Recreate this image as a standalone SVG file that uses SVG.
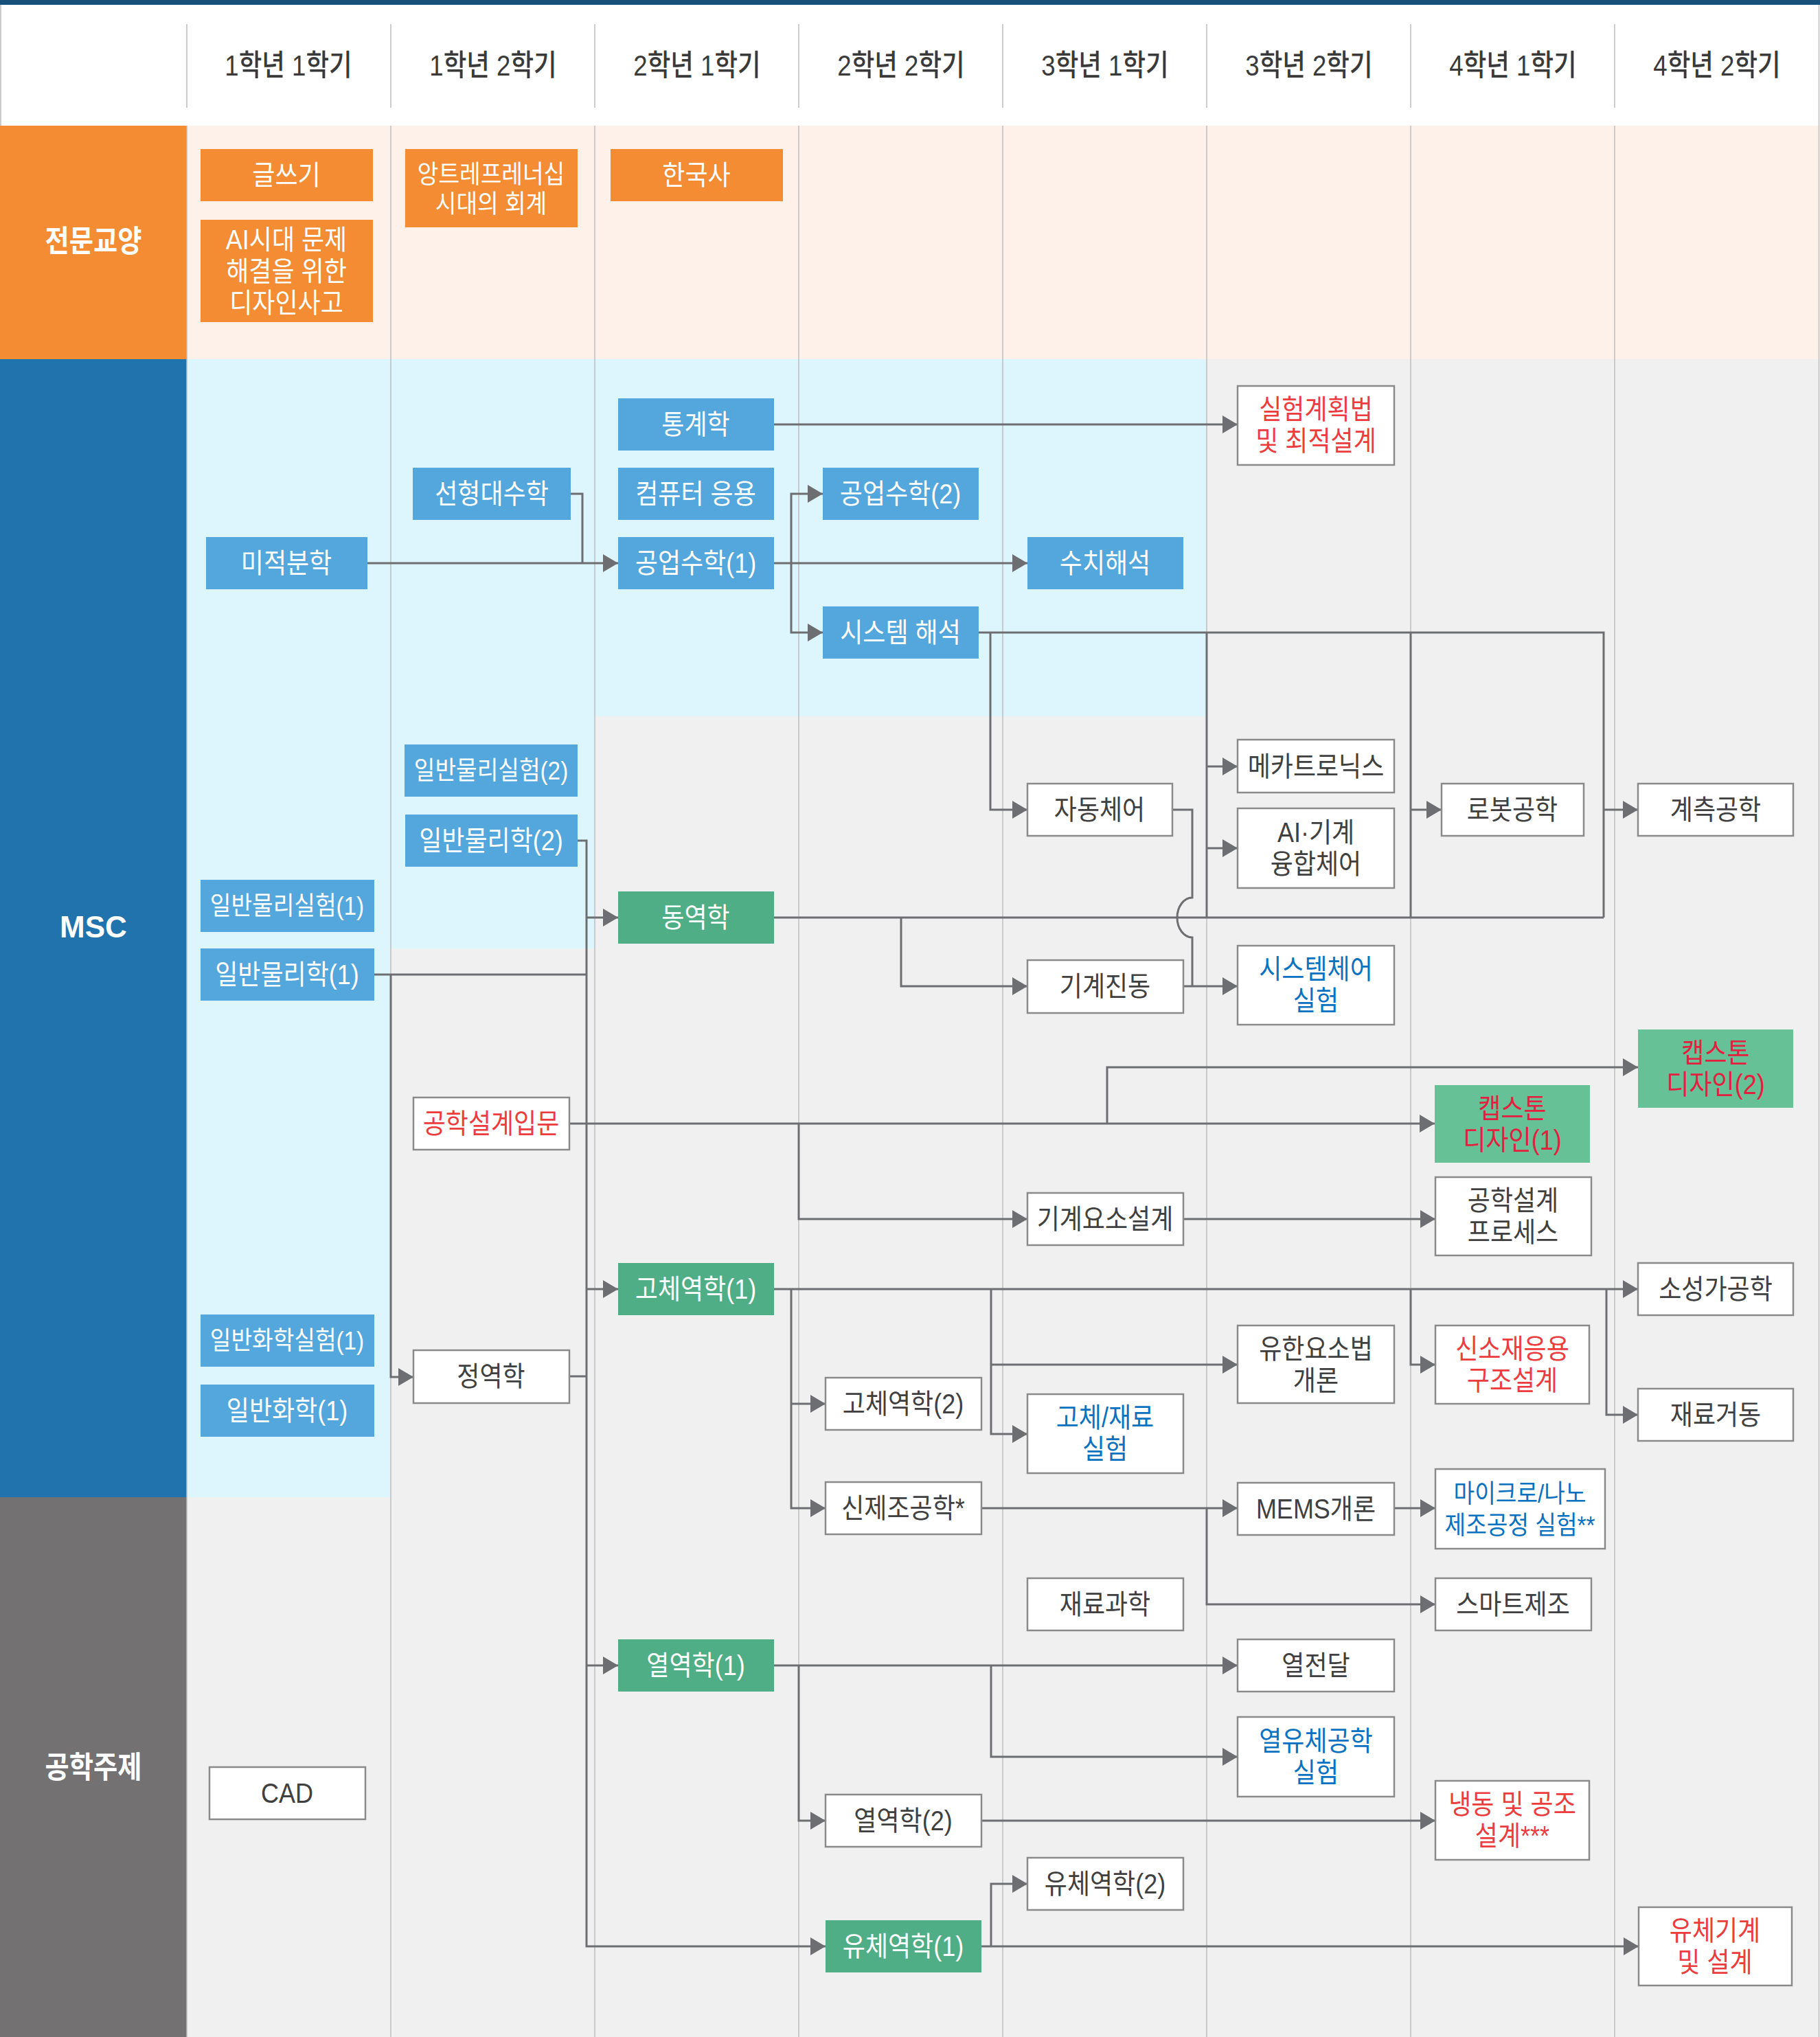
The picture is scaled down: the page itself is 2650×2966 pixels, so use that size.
<svg xmlns="http://www.w3.org/2000/svg" width="2650" height="2966" viewBox="0 0 2650 2966">
<defs>
<style>
text{font-family:"Liberation Sans","Noto Sans CJK KR",sans-serif;text-anchor:middle;dominant-baseline:central;transform-box:fill-box;transform-origin:center;transform:scaleX(0.9)}
.hdr{font-size:43px;font-weight:500;fill:#3a3a3a;transform:scaleX(0.85)}
.lab{font-size:44px;font-weight:700;fill:#ffffff;transform:scaleX(0.87)}
.lab.m{transform:none}
.n text{font-size:40px}
.n text.s{font-size:37px}
.col{stroke:#bdbdbd;stroke-width:1.5}
.or rect{fill:#f38c32}.or text{fill:#ffffff}
.bl rect{fill:#53a7dc}.bl text{fill:#ffffff}
.gr rect{fill:#50ae87}.gr text{fill:#ffffff}
.cg rect{fill:#66c196}.cg text{fill:#e3203f}
.wh rect{fill:#ffffff;stroke:#8a8a8a;stroke-width:2.5}.wh text{fill:#404040}
.wh text.r{fill:#ec3c3e}.wh text.b{fill:#0b72c2}
.wire path{fill:none;stroke:#6d6e71;stroke-width:3}
.wire path.a{marker-end:url(#ah)}
</style>
<marker id="ah" viewBox="0 0 22 26" refX="22" refY="13" markerWidth="22" markerHeight="26" markerUnits="userSpaceOnUse" orient="auto"><path d="M0,0 L22,13 L0,26 Z" fill="#6d6e71"/></marker>
</defs>

<g id="background">
<rect x="0" y="0" width="2650" height="2966" fill="#ffffff"/>
<rect x="0" y="0" width="2650" height="7" fill="#17507a"/>
<rect x="272" y="183" width="2378" height="340" fill="#fdf1e9"/>
<rect x="272" y="523" width="2378" height="2443" fill="#f0f0f0"/>
<rect x="272" y="523" width="297" height="1657" fill="#ddf5fc"/>
<rect x="569" y="523" width="297" height="858" fill="#ddf5fc"/>
<rect x="866" y="523" width="891" height="520" fill="#ddf5fc"/>
<rect x="0" y="183" width="272" height="340" fill="#f48c33"/>
<rect x="0" y="523" width="272" height="1657" fill="#2073ac"/>
<rect x="0" y="2180" width="272" height="786" fill="#737171"/>
<line x1="1" y1="7" x2="1" y2="183" stroke="#cccccc" stroke-width="2"/>
<line x1="2648.5" y1="7" x2="2648.5" y2="2966" stroke="#cccccc" stroke-width="2"/>
</g>

<g id="columns" class="col">
<path d="M272,35V157M569,35V157M866,35V157M1163,35V157M1460,35V157M1757,35V157M2054,35V157M2351,35V157"/>
<path d="M272,183V2966M569,183V2966M866,183V2966M1163,183V2966M1460,183V2966M1757,183V2966M2054,183V2966M2351,183V2966"/>
</g>

<g id="headers">
<text class="hdr" x="420" y="95">1학년 1학기</text>
<text class="hdr" x="718" y="95">1학년 2학기</text>
<text class="hdr" x="1015" y="95">2학년 1학기</text>
<text class="hdr" x="1312" y="95">2학년 2학기</text>
<text class="hdr" x="1609" y="95">3학년 1학기</text>
<text class="hdr" x="1906" y="95">3학년 2학기</text>
<text class="hdr" x="2203" y="95">4학년 1학기</text>
<text class="hdr" x="2500" y="95">4학년 2학기</text>
</g>

<g id="row-labels">
<text class="lab" x="136" y="352">전문교양</text>
<text class="lab m" x="136" y="1349">MSC</text>
<text class="lab" x="136" y="2574">공학주제</text>
</g>

<g id="connectors" class="wire">
<path class="a" d="M1127,618H1802"/>
<path d="M831,719H848V820"/>
<path class="a" d="M535,820H900"/>
<path class="a" d="M1127,820H1496"/>
<path class="a" d="M1152,820V719H1198"/>
<path class="a" d="M1152,820V921H1198"/>
<path d="M1425,921H2335V1336"/>
<path class="a" d="M1442,921V1179H1496"/>
<path d="M1757,921V1336"/>
<path class="a" d="M1757,1116H1802"/>
<path class="a" d="M1757,1235H1802"/>
<path d="M2054,921V1336"/>
<path class="a" d="M2054,1179H2099"/>
<path class="a" d="M2335,1179H2385"/>
<path d="M1127,1336H2335"/>
<path class="a" d="M1312,1336V1436H1496"/>
<path d="M1707,1179H1736V1307A22,29 0 0 0 1736,1365V1436"/>
<path class="a" d="M1723,1436H1802"/>
<path class="a" d="M841,1224H854V2834H1202"/>
<path class="a" d="M854,1336H900"/>
<path class="a" d="M854,1877H900"/>
<path class="a" d="M854,2425H900"/>
<path d="M545,1419H854"/>
<path class="a" d="M569,1419V2005H602"/>
<path d="M829,2004H854"/>
<path class="a" d="M829,1636H2089"/>
<path class="a" d="M1163,1636V1775H1496"/>
<path class="a" d="M1612,1636V1554H2385"/>
<path class="a" d="M1723,1775H2090"/>
<path class="a" d="M1127,1877H2385"/>
<path class="a" d="M1152,1877V2196H1202"/>
<path class="a" d="M1152,2044H1202"/>
<path class="a" d="M1443,1877V2088H1496"/>
<path class="a" d="M1443,1987H1802"/>
<path class="a" d="M2054,1877V1987H2090"/>
<path class="a" d="M2339,1877V2060H2385"/>
<path class="a" d="M1429,2196H1802"/>
<path class="a" d="M1757,2196V2336H2090"/>
<path class="a" d="M2030,2196H2090"/>
<path class="a" d="M1127,2425H1802"/>
<path class="a" d="M1163,2425V2651H1202"/>
<path class="a" d="M1443,2425V2558H1802"/>
<path class="a" d="M1429,2651H2090"/>
<path class="a" d="M1429,2834H2386"/>
<path class="a" d="M1443,2834V2743H1496"/>
</g>

<g id="nodes">
<g id="n-writing" class="n or"><rect x="292" y="217" width="251" height="76"/><text x="417" y="255">글쓰기</text></g>
<g id="n-design-thinking" class="n or"><rect x="292" y="320" width="251" height="149"/><text x="417" y="349"><tspan x="417" y="349">AI시대 문제</tspan><tspan x="417" y="395">해결을 위한</tspan><tspan x="417" y="441">디자인사고</tspan></text></g>
<g id="n-accounting" class="n or"><rect x="590" y="217" width="251" height="114"/><text class="s" x="715" y="253"><tspan x="715" y="253">앙트레프레너십</tspan><tspan x="715" y="296">시대의 회계</tspan></text></g>
<g id="n-history" class="n or"><rect x="889" y="217" width="251" height="76"/><text x="1014" y="255">한국사</text></g>

<g id="n-stat" class="n bl"><rect x="900" y="580" width="227" height="76"/><text x="1013" y="618">통계학</text></g>
<g id="n-linalg" class="n bl"><rect x="601" y="681" width="230" height="76"/><text x="716" y="719">선형대수학</text></g>
<g id="n-comp" class="n bl"><rect x="900" y="681" width="227" height="76"/><text x="1013" y="719">컴퓨터 응용</text></g>
<g id="n-calc" class="n bl"><rect x="300" y="782" width="235" height="76"/><text x="417" y="820">미적분학</text></g>
<g id="n-engmath1" class="n bl"><rect x="900" y="782" width="227" height="76"/><text x="1013" y="820">공업수학(1)</text></g>
<g id="n-engmath2" class="n bl"><rect x="1198" y="681" width="227" height="76"/><text x="1311" y="719">공업수학(2)</text></g>
<g id="n-sysanal" class="n bl"><rect x="1198" y="883" width="227" height="76"/><text x="1311" y="921">시스템 해석</text></g>
<g id="n-numanal" class="n bl"><rect x="1496" y="782" width="227" height="76"/><text x="1609" y="820">수치해석</text></g>
<g id="n-phylab2" class="n bl"><rect x="589" y="1084" width="252" height="76"/><text class="s" x="715" y="1122">일반물리실험(2)</text></g>
<g id="n-phy2" class="n bl"><rect x="590" y="1186" width="251" height="76"/><text x="715" y="1224">일반물리학(2)</text></g>
<g id="n-phylab1" class="n bl"><rect x="292" y="1281" width="253" height="76"/><text class="s" x="418" y="1319">일반물리실험(1)</text></g>
<g id="n-phy1" class="n bl"><rect x="292" y="1381" width="253" height="76"/><text x="418" y="1419">일반물리학(1)</text></g>
<g id="n-chemlab1" class="n bl"><rect x="292" y="1914" width="253" height="76"/><text class="s" x="418" y="1952">일반화학실험(1)</text></g>
<g id="n-chem1" class="n bl"><rect x="292" y="2016" width="253" height="76"/><text x="418" y="2054">일반화학(1)</text></g>

<g id="n-dynamics" class="n gr"><rect x="900" y="1298" width="227" height="76"/><text x="1013" y="1336">동역학</text></g>
<g id="n-solid1" class="n gr"><rect x="900" y="1839" width="227" height="76"/><text x="1013" y="1877">고체역학(1)</text></g>
<g id="n-thermo1" class="n gr"><rect x="900" y="2387" width="227" height="76"/><text x="1013" y="2425">열역학(1)</text></g>
<g id="n-fluid1" class="n gr"><rect x="1202" y="2796" width="227" height="76"/><text x="1315" y="2834">유체역학(1)</text></g>
<g id="n-capstone2" class="n cg"><rect x="2385" y="1499" width="226" height="114"/><text x="2498" y="1533"><tspan x="2498" y="1533">캡스톤</tspan><tspan x="2498" y="1579">디자인(2)</tspan></text></g>
<g id="n-capstone1" class="n cg"><rect x="2089" y="1580" width="226" height="113"/><text x="2202" y="1614"><tspan x="2202" y="1614">캡스톤</tspan><tspan x="2202" y="1660">디자인(1)</tspan></text></g>

<g id="n-doe" class="n wh"><rect x="1802" y="562" width="228" height="115"/><text class="r" x="1916" y="596"><tspan x="1916" y="596">실험계획법</tspan><tspan x="1916" y="642">및 최적설계</tspan></text></g>
<g id="n-mechatronics" class="n wh"><rect x="1802" y="1077" width="228" height="77"/><text x="1916" y="1116">메카트로닉스</text></g>
<g id="n-autocontrol" class="n wh"><rect x="1496" y="1141" width="211" height="76"/><text x="1601" y="1179">자동체어</text></g>
<g id="n-aimech" class="n wh"><rect x="1802" y="1177" width="228" height="116"/><text x="1916" y="1212"><tspan x="1916" y="1212">AI·기계</tspan><tspan x="1916" y="1258">융합체어</tspan></text></g>
<g id="n-robot" class="n wh"><rect x="2099" y="1141" width="207" height="76"/><text x="2202" y="1179">로봇공학</text></g>
<g id="n-measure" class="n wh"><rect x="2385" y="1141" width="226" height="76"/><text x="2498" y="1179">계측공학</text></g>
<g id="n-sysctrllab" class="n wh"><rect x="1802" y="1377" width="228" height="115"/><text class="b" x="1916" y="1411"><tspan x="1916" y="1411">시스템체어</tspan><tspan x="1916" y="1457">실험</tspan></text></g>
<g id="n-vibration" class="n wh"><rect x="1496" y="1398" width="227" height="77"/><text x="1609" y="1436">기계진동</text></g>
<g id="n-intro-design" class="n wh"><rect x="602" y="1598" width="227" height="76"/><text class="r" x="715" y="1636">공학설계입문</text></g>
<g id="n-machine-element" class="n wh"><rect x="1496" y="1737" width="227" height="76"/><text x="1609" y="1775">기계요소설계</text></g>
<g id="n-design-process" class="n wh"><rect x="2090" y="1714" width="227" height="114"/><text x="2203" y="1748"><tspan x="2203" y="1748">공학설계</tspan><tspan x="2203" y="1794">프로세스</tspan></text></g>
<g id="n-forming" class="n wh"><rect x="2385" y="1839" width="226" height="76"/><text x="2498" y="1877">소성가공학</text></g>
<g id="n-statics" class="n wh"><rect x="602" y="1966" width="227" height="77"/><text x="715" y="2004">정역학</text></g>
<g id="n-solid2" class="n wh"><rect x="1202" y="2006" width="227" height="76"/><text x="1315" y="2044">고체역학(2)</text></g>
<g id="n-fem" class="n wh"><rect x="1802" y="1930" width="228" height="113"/><text x="1916" y="1964"><tspan x="1916" y="1964">유한요소법</tspan><tspan x="1916" y="2010">개론</tspan></text></g>
<g id="n-newmat" class="n wh"><rect x="2090" y="1930" width="224" height="114"/><text class="r" x="2202" y="1964"><tspan x="2202" y="1964">신소재응용</tspan><tspan x="2202" y="2010">구조설계</tspan></text></g>
<g id="n-matbehavior" class="n wh"><rect x="2385" y="2022" width="226" height="76"/><text x="2498" y="2060">재료거동</text></g>
<g id="n-solidlab" class="n wh"><rect x="1496" y="2030" width="227" height="115"/><text class="b" x="1609" y="2064"><tspan x="1609" y="2064">고체/재료</tspan><tspan x="1609" y="2110">실험</tspan></text></g>
<g id="n-newmfg" class="n wh"><rect x="1202" y="2158" width="227" height="76"/><text x="1315" y="2196">신제조공학*</text></g>
<g id="n-mems" class="n wh"><rect x="1802" y="2159" width="228" height="76"/><text x="1916" y="2197">MEMS개론</text></g>
<g id="n-nanolab" class="n wh"><rect x="2090" y="2139" width="247" height="116"/><text class="b s" x="2213" y="2174"><tspan x="2213" y="2174">마이크로/나노</tspan><tspan x="2213" y="2220">제조공정 실험**</tspan></text></g>
<g id="n-matsci" class="n wh"><rect x="1496" y="2298" width="227" height="76"/><text x="1609" y="2336">재료과학</text></g>
<g id="n-smartmfg" class="n wh"><rect x="2090" y="2298" width="227" height="76"/><text x="2203" y="2336">스마트제조</text></g>
<g id="n-heat" class="n wh"><rect x="1802" y="2387" width="228" height="76"/><text x="1916" y="2425">열전달</text></g>
<g id="n-thermolab" class="n wh"><rect x="1802" y="2500" width="228" height="116"/><text class="b" x="1916" y="2535"><tspan x="1916" y="2535">열유체공학</tspan><tspan x="1916" y="2581">실험</tspan></text></g>
<g id="n-hvac" class="n wh"><rect x="2090" y="2593" width="224" height="115"/><text class="r" x="2202" y="2627"><tspan x="2202" y="2627">냉동 및 공조</tspan><tspan x="2202" y="2673">설계***</tspan></text></g>
<g id="n-thermo2" class="n wh"><rect x="1202" y="2613" width="227" height="76"/><text x="1315" y="2651">열역학(2)</text></g>
<g id="n-fluid2" class="n wh"><rect x="1496" y="2705" width="227" height="76"/><text x="1609" y="2743">유체역학(2)</text></g>
<g id="n-fluidmach" class="n wh"><rect x="2386" y="2777" width="223" height="114"/><text class="r" x="2497" y="2811"><tspan x="2497" y="2811">유체기계</tspan><tspan x="2497" y="2857">및 설계</tspan></text></g>
<g id="n-cad" class="n wh"><rect x="305" y="2573" width="227" height="76"/><text x="418" y="2611">CAD</text></g>
</g>
</svg>
